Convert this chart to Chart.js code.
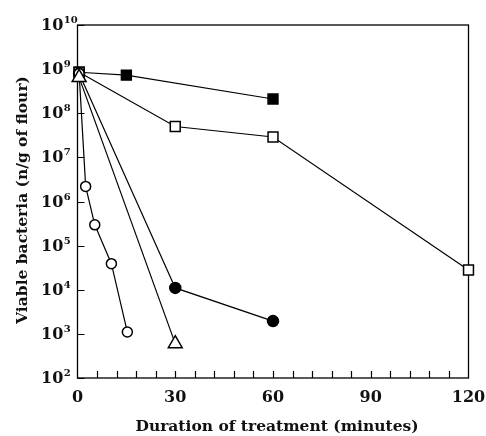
<!DOCTYPE html>
<html>
<head>
<meta charset="utf-8">
<script src="https://cdn.jsdelivr.net/npm/chart.js@4"></script>
<style>
  html, body { margin: 0; padding: 0; background: #fff; }
  #wrap { width: 486px; height: 436px; }
</style>
</head>
<body>
<div id="wrap"><canvas id="c" width="486" height="436"></canvas></div>
<script>
// Axis ticks
const yExponents = [2, 3, 4, 5, 6, 7, 8, 9, 10];
const xTickLabels = [0, 30, 60, 90, 120];
const xMinorStep = 6;

// Survival curves: time (min) and viable count (n/g of flour)
const tFilledSquare = [0.5, 15, 60];
const vFilledSquare = [8.5e8, 7.3e8, 2.1e8];

const tOpenSquare = [0.5, 30, 60, 120];
const vOpenSquare = [8.5e8, 5.0e7, 2.9e7, 2.8e4];

const tFilledCircle = [0.5, 30, 60];
const vFilledCircle = [8.0e8, 1.1e4, 1.95e3];

const tTriangle = [0.5, 30];
const vTriangle = [6.5e8, 600];

const tOpenCircle = [0.5, 2.5, 5.3, 10.4, 15.3];
const vOpenCircle = [8.0e8, 2.2e6, 2.96e5, 3.9e4, 1.1e3];

const FONT = '"DejaVu Serif", serif';

function pts(ts, vs) { return ts.map((t, i) => ({ x: t, y: vs[i] })); }

function series(ts, vs, style, radius, filled, order) {
  return {
    data: pts(ts, vs),
    borderColor: '#000',
    borderWidth: 1.2,
    pointStyle: style,
    pointRadius: radius,
    pointBorderWidth: 1.5,
    pointBorderColor: '#000',
    pointBackgroundColor: filled ? '#000' : '#fff',
    showLine: true,
    tension: 0,
    clip: false,
    order: order
  };
}

const frame = {
  id: 'frame',
  beforeDatasetsDraw(chart) {
    const { ctx, chartArea: a, scales: { x, y } } = chart;
    ctx.save();
    ctx.strokeStyle = '#000';
    ctx.lineWidth = 1.3;
    ctx.strokeRect(a.left, a.top, a.right - a.left, a.bottom - a.top);
    ctx.lineWidth = 1.2;
    ctx.beginPath();
    for (let t = xMinorStep; t < 120; t += xMinorStep) {
      const px = Math.round(x.getPixelForValue(t)) + 0.5;
      ctx.moveTo(px, a.bottom);
      ctx.lineTo(px, a.bottom - 7);
    }
    yExponents.forEach(e => {
      const py = Math.round(y.getPixelForValue(Math.pow(10, e))) + 0.5;
      ctx.moveTo(a.left, py);
      ctx.lineTo(a.left + 7, py);
    });
    ctx.stroke();
    ctx.restore();
  },
  afterDraw(chart) {
    const { ctx, chartArea: a, scales: { x, y } } = chart;
    ctx.save();
    ctx.fillStyle = '#111';
    // y tick labels as powers of ten
    yExponents.forEach(e => {
      const py = y.getPixelForValue(Math.pow(10, e));
      ctx.font = 'bold 16px ' + FONT;
      ctx.textAlign = 'left';
      ctx.textBaseline = 'alphabetic';
      ctx.fillText('10', 41, py + 5);
      const w = ctx.measureText('10').width;
      ctx.font = 'bold 10px ' + FONT;
      ctx.fillText(String(e), 41 + w + 0.5, py - 2);
    });
    // x tick labels
    ctx.font = 'bold 16px ' + FONT;
    ctx.textAlign = 'center';
    xTickLabels.forEach(v => {
      ctx.fillText(String(v), x.getPixelForValue(v), 402);
    });
    // axis titles
    ctx.font = 'bold 15.5px ' + FONT;
    ctx.fillText('Duration of treatment (minutes)', 277, 431);
    ctx.translate(27, 200);
    ctx.rotate(-Math.PI / 2);
    ctx.font = 'bold 15.5px ' + FONT;
    ctx.fillText('Viable bacteria (n/g of flour)', 0, 0);
    ctx.restore();
  }
};

new Chart(document.getElementById('c'), {
  type: 'scatter',
  data: {
    datasets: [
      series(tTriangle, vTriangle, 'triangle', 8, false, 0),
      series(tOpenCircle, vOpenCircle, 'circle', 5, false, 1),
      series(tFilledCircle, vFilledCircle, 'circle', 5.5, true, 2),
      series(tOpenSquare, vOpenSquare, 'rect', 7, false, 3),
      series(tFilledSquare, vFilledSquare, 'rect', 7, true, 4)
    ]
  },
  options: {
    responsive: false,
    animation: false,
    devicePixelRatio: 1,
    layout: { padding: { left: 77.5, top: 25, right: 17.5, bottom: 58 } },
    plugins: { legend: { display: false }, tooltip: { enabled: false } },
    scales: {
      x: { type: 'linear', min: 0, max: 120, display: false },
      y: { type: 'logarithmic', min: 1e2, max: 1e10, display: false }
    }
  },
  plugins: [frame]
});
</script>
</body>
</html>
